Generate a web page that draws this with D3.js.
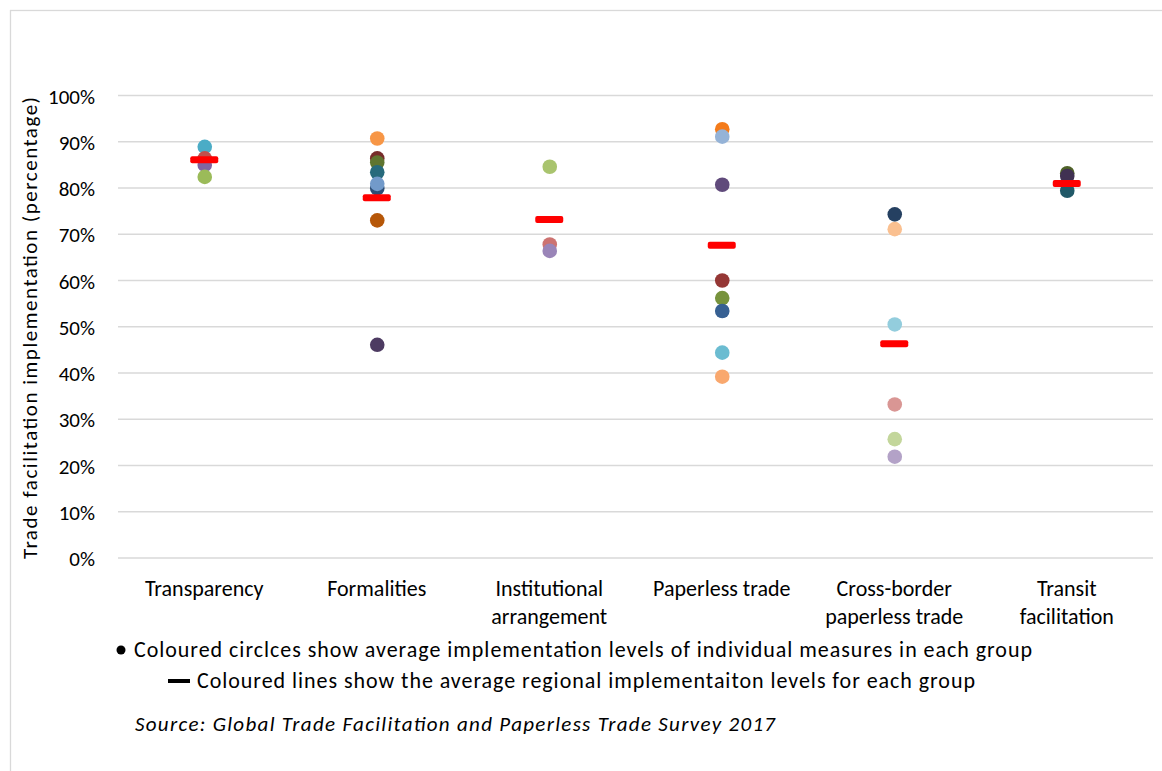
<!DOCTYPE html>
<html>
<head>
<meta charset="utf-8">
<script src="https://cdn.jsdelivr.net/npm/d3@7"></script>
<style>
  html, body { margin: 0; padding: 0; background: #fff; }
  svg { display: block; font-family: Carlito, Calibri, Lato, "Open Sans", sans-serif; }
</style>
</head>
<body>
<svg id="chart" width="1162" height="771"></svg>
<script>
const categories = [
  ["Transparency"],
  ["Formalities"],
  ["Institutional", "arrangement"],
  ["Paperless trade"],
  ["Cross-border", "paperless trade"],
  ["Transit", "facilitation"]
];
const yTicks = [0, 10, 20, 30, 40, 50, 60, 70, 80, 90, 100];

// individual measure averages (percent) per group
const transparencyValues = [88.9, 86.4, 85.0, 82.4];
const transparencyColors = ["#4bacc6", "#c0504d", "#8064a2", "#9bbb59"];

const formalitiesValues = [90.7, 86.4, 85.5, 83.4, 79.9, 80.9, 73.0, 46.1];
const formalitiesColors = ["#f79646", "#772c2a", "#5f7530", "#276a7c", "#2c4d75", "#729aca", "#b65708", "#4d3b62"];

const institutionalValues = [84.6, 67.8, 66.4];
const institutionalColors = ["#a9c46e", "#cd7371", "#9a85b8"];

const paperlessValues = [92.7, 91.1, 80.7, 60.0, 56.2, 53.4, 44.4, 39.2];
const paperlessColors = ["#f47b1a", "#95b3d7", "#604a7b", "#953735", "#77933c", "#376092", "#6bbcd1", "#f9a86e"];

const crossBorderValues = [74.3, 71.1, 50.5, 33.2, 25.7, 21.9];
const crossBorderColors = ["#254061", "#fac090", "#93cddd", "#d99694", "#c3d69b", "#b3a2c7"];

const transitValues = [83.2, 82.6, 79.4];
const transitColors = ["#4f6228", "#403152", "#215968"];

// regional averages (red lines)
const averages = [86.1, 77.9, 73.2, 67.6, 46.3, 81.0];

const groupValues = [transparencyValues, formalitiesValues, institutionalValues, paperlessValues, crossBorderValues, transitValues];
const groupColors = [transparencyColors, formalitiesColors, institutionalColors, paperlessColors, crossBorderColors, transitColors];

const svg = d3.select("#chart");

// outer border
svg.append("rect")
  .attr("x", 10.5).attr("y", 10.5)
  .attr("width", 1162).attr("height", 771)
  .attr("fill", "none").attr("stroke", "#d9d9d9").attr("stroke-width", 1.3);

const x = d3.scaleBand().domain(d3.range(categories.length)).range([118, 1153]);
const y = d3.scaleLinear().domain([0, 100]).range([558, 95.5]);

// gridlines
svg.append("g").selectAll("line").data(yTicks).join("line")
  .attr("x1", 118).attr("x2", 1153)
  .attr("y1", d => y(d)).attr("y2", d => y(d))
  .attr("stroke", "#d9d9d9").attr("stroke-width", 1.5);

// y tick labels
svg.append("g").selectAll("text").data(yTicks).join("text")
  .attr("x", 95).attr("y", d => y(d) + 1)
  .attr("text-anchor", "end").attr("dominant-baseline", "central")
  .attr("font-size", 21).attr("fill", "#000")
  .text(d => d + "%");

// y axis title
svg.append("text")
  .attr("transform", "translate(37,328) rotate(-90)")
  .attr("text-anchor", "middle")
  .attr("font-size", 21).attr("fill", "#000")
  .attr("textLength", 462).attr("lengthAdjust", "spacing")
  .text("Trade facilitation implementation (percentage)");

// category labels
const catG = svg.append("g").selectAll("text").data(categories).join("text")
  .attr("text-anchor", "middle")
  .attr("font-size", 22).attr("fill", "#000");
catG.selectAll("tspan").data((d, i) => d.map(s => ({s, i}))).join("tspan")
  .attr("x", d => x(d.i) + x.bandwidth() / 2)
  .attr("y", (d, j) => 596 + j * 28)
  .text(d => d.s);

// dots
const pts = [];
groupValues.forEach((vals, gi) => vals.forEach((v, k) => pts.push({gi, v, c: groupColors[gi][k]})));
svg.append("g").selectAll("circle").data(pts).join("circle")
  .attr("cx", d => x(d.gi) + x.bandwidth() / 2 + 0.5)
  .attr("cy", d => y(d.v))
  .attr("r", 7.3)
  .attr("fill", d => d.c);

// average lines
svg.append("g").selectAll("rect").data(averages).join("rect")
  .attr("x", (d, i) => x(i) + x.bandwidth() / 2 - 14)
  .attr("y", d => y(d) - 3.5)
  .attr("width", 28).attr("height", 7).attr("rx", 2)
  .attr("fill", "#ff0000");

// legend
svg.append("circle").attr("cx", 121).attr("cy", 650).attr("r", 4.5).attr("fill", "#000");
svg.append("text").attr("x", 134).attr("y", 657)
  .attr("font-size", 22).attr("fill", "#000")
  .attr("textLength", 898).attr("lengthAdjust", "spacing")
  .text("Coloured circlces show average implementation levels of individual measures in each group");
svg.append("rect").attr("x", 168).attr("y", 679).attr("width", 22).attr("height", 4).attr("fill", "#000");
svg.append("text").attr("x", 197).attr("y", 688)
  .attr("font-size", 22).attr("fill", "#000")
  .attr("textLength", 778).attr("lengthAdjust", "spacing")
  .text("Coloured lines show the average regional implementaiton levels for each group");
svg.append("text").attr("x", 135).attr("y", 731)
  .attr("font-size", 21).attr("font-style", "italic").attr("fill", "#000")
  .attr("textLength", 640).attr("lengthAdjust", "spacing")
  .text("Source:  Global Trade Facilitation and Paperless Trade Survey 2017");
</script>
</body>
</html>
